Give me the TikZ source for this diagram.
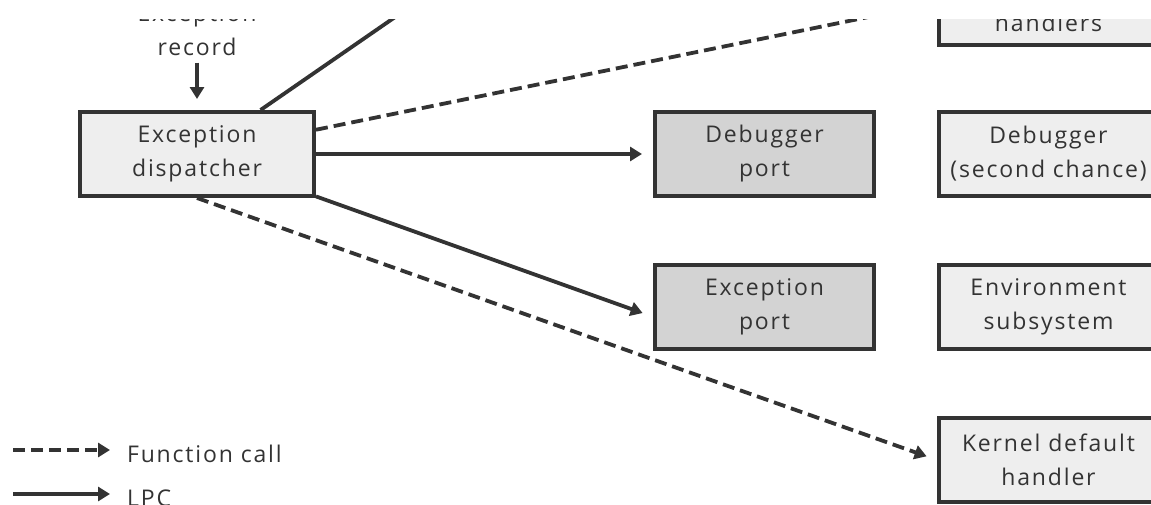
\documentclass[tikz,border=0pt]{standalone}
\usepackage{fontspec}
\newfontfamily\lblfont[LetterSpace=8]{Open Sans}
\usetikzlibrary{arrows.meta,positioning}
\definecolor{inkgray}{RGB}{51,51,51}
\definecolor{palegray}{RGB}{238,238,238}
\definecolor{portgray}{RGB}{211,211,211}

\begin{document}
\begin{tikzpicture}[
  x=0.5pt,y=-0.5pt,
  lbl/.style={
    text=inkgray,
    align=center,
    font=\lblfont\fontsize{11.5}{17}\selectfont
  },
  box/.style={
    lbl,
    draw=inkgray,
    line width=2pt,
    fill=palegray,
    minimum width=109.5pt,
    minimum height=42pt,
    inner sep=1pt
  },
  lpc/.style={
    draw=inkgray,
    line width=1.9pt,
    -{Triangle[length=6pt,width=7pt]},
    shorten >=5.5pt
  },
  call/.style={
    lpc,
    dash pattern=on 6pt off 3pt
  }
]
\useasboundingbox (0,0) rectangle (1151,504);
\clip (0,19) rectangle (1151,504);

\node[box,minimum width=117pt] (dispatch) at (197,154) {Exception\\dispatcher};
\node[box,fill=portgray,right=168.5pt of dispatch] (dbgport) {Debugger\\port};
\node[box,right=30.5pt of dbgport] (dbgsecond) {Debugger\\(second chance)};
\node[box,above=31.5pt of dbgsecond] (frame) {\strut\\handlers};
\node[box,fill=portgray,below=32.5pt of dbgport] (excport) {Exception\\port};
\node[box,right=30.5pt of excport] (envsub) {Environment\\subsystem};
\node[box,below=32.5pt of envsub] (kernel) {Kernel default\\handler};
\node[lbl] (record) at (197,30) {Exception\\record};
\coordinate (upper) at (524,-72);

\draw[lpc] (record) -- (dispatch);
\draw[lpc] (dispatch) -- (upper);
\draw[call] (dispatch) -- (frame.west);
\draw[lpc] (dispatch) -- (dbgport);
\draw[lpc] (dispatch) -- (excport.185);
\draw[call] (dispatch.south) -- (kernel.west);

% legend
\coordinate (callA) at (13,450);
\coordinate (callB) at (110,450);
\coordinate (lpcA) at (13,494);
\coordinate (lpcB) at (110,494);
\draw[call,shorten >=0pt] (callA) -- (callB);
\draw[lpc,shorten >=0pt] (lpcA) -- (lpcB);
\node[lbl,anchor=west] (calltext) at (120,454) {Function call};
\node[lbl,anchor=west] (lpctext) at (120,498) {LPC};
\end{tikzpicture}
\end{document}
